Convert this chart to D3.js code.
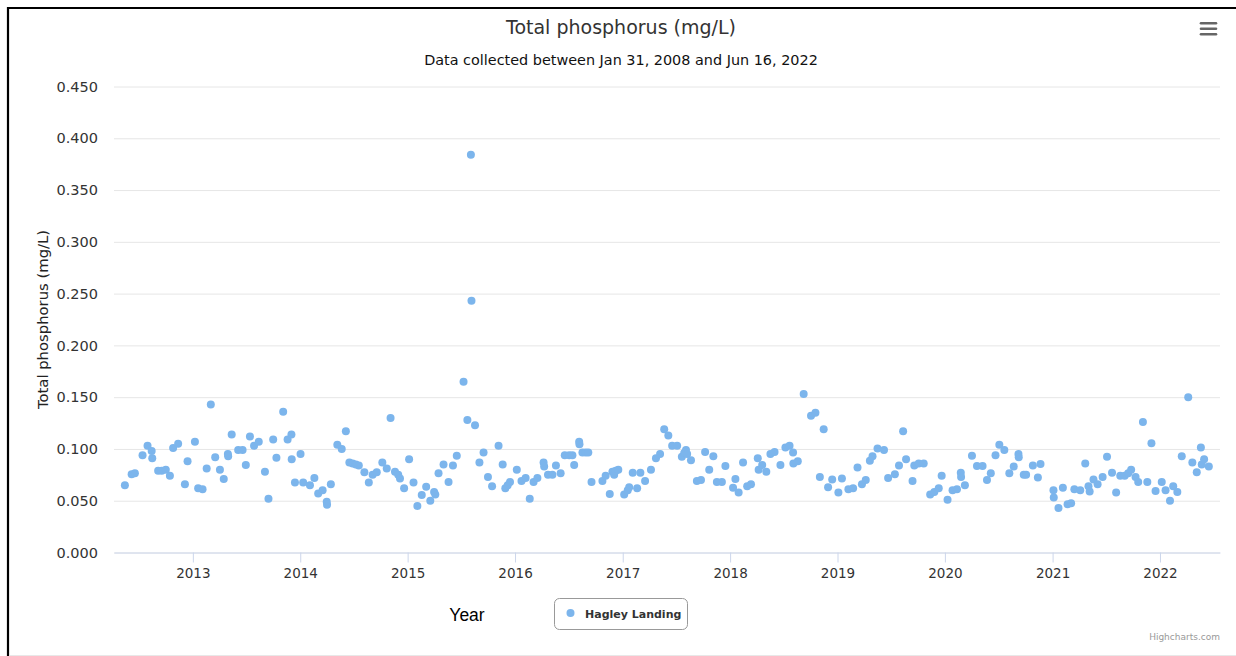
<!DOCTYPE html>
<html>
<head>
<meta charset="utf-8">
<script src="https://cdn.jsdelivr.net/npm/d3@7"></script>
<style>
  html, body { margin: 0; padding: 0; background: #fff; }
  svg { display: block; }
</style>
</head>
<body>
<script>
const chartTitle = "Total phosphorus (mg/L)";
const chartSubtitle = "Data collected between Jan 31, 2008 and Jun 16, 2022";
const yAxisTitle = "Total phosphorus (mg/L)";
const xAxisTitle = "Year";
const seriesName = "Hagley Landing";
const creditText = "Highcharts.com";
const yTicks = [0, 0.05, 0.10, 0.15, 0.20, 0.25, 0.30, 0.35, 0.40, 0.45];
const xDomain = ["2012-04-08", "2022-07-24"];

const dates = [
"2012-05-15","2012-06-07","2012-06-18","2012-07-14","2012-07-31","2012-08-14","2012-08-16","2012-09-05","2012-09-17","2012-10-01","2012-10-15","2012-10-26","2012-11-12","2012-12-05","2012-12-14",
"2013-01-08","2013-01-19","2013-02-03","2013-02-17","2013-03-03","2013-03-18","2013-04-03","2013-04-16","2013-04-30","2013-05-01","2013-05-13","2013-06-04","2013-06-19","2013-06-30","2013-07-14","2013-07-28","2013-08-13","2013-09-03","2013-09-15","2013-10-01","2013-10-12","2013-11-04","2013-11-19","2013-12-02","2013-12-03","2013-12-14",
"2014-01-02","2014-01-11","2014-02-03","2014-02-18","2014-03-03","2014-03-18","2014-04-01","2014-04-02","2014-04-15","2014-05-07","2014-05-22","2014-06-05","2014-06-17","2014-06-28","2014-07-09","2014-07-19","2014-08-07","2014-08-22","2014-09-04","2014-09-18","2014-10-07","2014-10-22","2014-11-04","2014-11-19","2014-11-30","2014-12-06","2014-12-20",
"2015-01-06","2015-01-21","2015-02-03","2015-02-18","2015-03-05","2015-03-19","2015-04-01","2015-04-05","2015-04-16","2015-05-03","2015-05-20","2015-06-04","2015-06-17","2015-07-10","2015-07-23","2015-08-04","2015-08-06","2015-08-18","2015-09-02","2015-09-16","2015-10-01","2015-10-15","2015-11-06","2015-11-20","2015-11-29","2015-12-07","2015-12-15",
"2016-01-07","2016-01-23","2016-02-06","2016-02-20","2016-03-04","2016-03-17","2016-04-07","2016-04-09","2016-04-22","2016-05-07","2016-05-19","2016-06-04","2016-06-18","2016-07-03","2016-07-14","2016-07-20","2016-08-06","2016-08-07","2016-08-17","2016-08-28","2016-09-06","2016-09-17","2016-10-24","2016-11-04","2016-11-18","2016-11-27","2016-12-03","2016-12-08","2016-12-17",
"2017-01-06","2017-01-18","2017-01-23","2017-02-04","2017-02-19","2017-03-02","2017-03-18","2017-04-07","2017-04-24","2017-05-08","2017-05-22","2017-06-05","2017-06-18","2017-07-05","2017-07-21","2017-07-29","2017-08-04","2017-08-08","2017-08-21","2017-09-10","2017-09-24","2017-10-08","2017-10-22","2017-11-05","2017-11-17","2017-12-04","2017-12-16",
"2018-01-11","2018-01-19","2018-01-30","2018-02-14","2018-02-28","2018-03-13","2018-04-05","2018-04-08","2018-04-20","2018-05-04","2018-05-18","2018-06-01","2018-06-21","2018-07-08","2018-07-22","2018-08-03","2018-08-04","2018-08-19","2018-09-08","2018-10-03","2018-10-18","2018-11-02","2018-11-15","2018-11-30","2018-12-14",
"2019-01-04","2019-01-16","2019-02-07","2019-02-23","2019-03-10","2019-03-25","2019-04-07","2019-04-21","2019-04-30","2019-05-17","2019-06-08","2019-06-22","2019-07-15","2019-07-29","2019-08-12","2019-08-22","2019-09-13","2019-09-19","2019-10-04","2019-10-21","2019-11-12","2019-11-26","2019-12-11","2019-12-21",
"2020-01-10","2020-01-27","2020-02-11","2020-02-24","2020-02-25","2020-03-09","2020-04-02","2020-04-19","2020-05-08","2020-05-23","2020-06-05","2020-06-21","2020-07-04","2020-07-21","2020-08-07","2020-08-22","2020-09-07","2020-09-08","2020-09-25","2020-10-03","2020-10-26","2020-11-12","2020-11-21",
"2021-01-04","2021-01-05","2021-01-21","2021-02-05","2021-02-21","2021-03-05","2021-03-16","2021-04-05","2021-04-22","2021-05-03","2021-05-07","2021-05-20","2021-06-03","2021-06-20","2021-07-05","2021-07-22","2021-08-05","2021-08-19","2021-09-03","2021-09-15","2021-09-25","2021-10-10","2021-10-19","2021-11-04","2021-11-19","2021-12-03","2021-12-17",
"2022-01-07","2022-01-20","2022-02-04","2022-02-15","2022-03-01","2022-03-16","2022-04-07","2022-04-21","2022-05-06","2022-05-20","2022-05-23","2022-05-31","2022-06-16"
];

const values = [
0.065,0.0755,0.0765,0.094,0.103,0.098,0.091,0.079,0.079,0.080,0.074,0.101,0.105,0.066,0.088,
0.107,0.062,0.061,0.081,0.143,0.092,0.080,0.071,0.095,0.093,0.114,0.099,0.099,0.0845,0.112,0.103,0.107,0.078,0.052,0.109,0.0915,0.136,0.109,0.114,0.090,0.0675,
0.095,0.0675,0.065,0.072,0.057,0.060,0.049,0.046,0.066,0.104,0.100,0.117,0.087,0.086,0.085,0.084,0.0775,0.0675,0.075,0.0775,0.087,0.081,0.130,0.078,0.075,0.0715,0.062,
0.090,0.0675,0.045,0.0555,0.0635,0.050,0.0585,0.056,0.0765,0.085,0.068,0.084,0.0935,0.165,0.128,0.384,0.243,0.123,0.087,0.0965,0.073,0.064,0.103,0.085,0.062,0.065,0.068,
0.080,0.069,0.072,0.052,0.068,0.072,0.087,0.083,0.075,0.075,0.084,0.0765,0.094,0.094,0.094,0.0845,0.107,0.1045,0.0965,0.0965,0.0965,0.068,0.069,0.074,0.0565,0.078,0.075,0.079,0.080,
0.056,0.060,0.063,0.077,0.062,0.077,0.069,0.080,0.091,0.095,0.119,0.113,0.103,0.103,0.0925,0.096,0.099,0.095,0.089,0.069,0.070,0.097,0.080,0.093,0.068,0.068,0.0835,
0.0625,0.071,0.058,0.087,0.064,0.066,0.091,0.080,0.0845,0.078,0.095,0.097,0.0845,0.1015,0.103,0.0965,0.086,0.088,0.153,0.132,0.135,0.073,0.119,0.063,0.0705,
0.058,0.0715,0.061,0.062,0.082,0.066,0.070,0.0885,0.093,0.1005,0.099,0.072,0.0755,0.084,0.117,0.090,0.069,0.084,0.086,0.086,0.056,0.0585,0.062,0.074,
0.051,0.060,0.061,0.077,0.073,0.065,0.0935,0.0835,0.0835,0.070,0.0765,0.094,0.104,0.099,0.0765,0.083,0.095,0.092,0.075,0.075,0.084,0.0725,0.0855,
0.060,0.053,0.043,0.0625,0.0465,0.0475,0.061,0.060,0.086,0.064,0.059,0.0705,0.066,0.073,0.0925,0.077,0.058,0.074,0.074,0.0765,0.080,0.073,0.068,0.126,0.068,0.1055,0.0595,
0.068,0.060,0.050,0.064,0.0585,0.093,0.150,0.087,0.0775,0.1015,0.085,0.090,0.083
];

const W = 1236, H = 656;
const FONT = '"DejaVu Sans", "Lucida Grande", sans-serif';
const parse = d3.timeParse("%Y-%m-%d");
const points = dates.map((d, i) => ({ date: parse(d), value: values[i] }));

const plot = { left: 114, right: 1220, top: 86.5, bottom: 552.5 };

const svg = d3.select("body").append("svg")
  .attr("width", W).attr("height", H)
  .style("font-family", FONT);

svg.append("rect").attr("width", W).attr("height", H).attr("fill", "#fff");

// frame
svg.append("line").attr("x1", 8).attr("x2", W).attr("y1", 8).attr("y2", 8)
  .attr("stroke", "#000").attr("stroke-width", 2.2);
svg.append("line").attr("x1", 8).attr("x2", 8).attr("y1", 7).attr("y2", H)
  .attr("stroke", "#000").attr("stroke-width", 2.2);
svg.append("line").attr("x1", 9).attr("x2", W).attr("y1", 655.5).attr("y2", 655.5)
  .attr("stroke", "#e8e8e8").attr("stroke-width", 1);

const x = d3.scaleTime()
  .domain(xDomain.map(parse))
  .range([plot.left, plot.right]);
const y = d3.scaleLinear()
  .domain([0, 0.45])
  .range([plot.bottom, plot.top]);

// title & subtitle
svg.append("text").attr("x", 621).attr("y", 33.5)
  .attr("text-anchor", "middle").attr("fill", "#333")
  .style("font-size", "19px").text(chartTitle);
svg.append("text").attr("x", 621).attr("y", 65)
  .attr("text-anchor", "middle").attr("fill", "#111")
  .style("font-size", "14.4px").text(chartSubtitle);

// menu icon
const menu = svg.append("g").attr("stroke", "#666").attr("stroke-width", 2.6).attr("stroke-linecap", "round");
[23.3, 28.7, 34.2].forEach(yy => {
  menu.append("line").attr("x1", 1201).attr("x2", 1216).attr("y1", yy).attr("y2", yy);
});

// y grid + labels
const yAxis = d3.axisLeft(y)
  .tickValues(yTicks)
  .tickFormat(d3.format(".3f"))
  .tickSize(-(plot.right - plot.left))
  .tickPadding(16);
const gy = svg.append("g").attr("transform", `translate(${plot.left},0)`).call(yAxis);
gy.select(".domain").remove();
gy.selectAll(".tick line").attr("stroke", "#e6e6e6").attr("stroke-width", 1);
gy.selectAll(".tick text").attr("fill", "#333").style("font-size", "14.5px").style("font-family", FONT);

// x axis
const xAxis = d3.axisBottom(x)
  .ticks(d3.timeYear.every(1))
  .tickFormat(d3.timeFormat("%Y"))
  .tickSize(10)
  .tickSizeOuter(0)
  .tickPadding(6);
const gx = svg.append("g").attr("transform", `translate(0,${plot.bottom})`).call(xAxis);
gx.select(".domain").attr("stroke", "#ccd6eb").attr("stroke-width", 1);
gx.selectAll(".tick line").attr("stroke", "#ccd6eb");
gx.selectAll(".tick text").attr("fill", "#333").style("font-size", "13.5px").style("font-family", FONT);

// y axis title
svg.append("text")
  .attr("transform", `translate(48,${(plot.top + plot.bottom) / 2}) rotate(-90)`)
  .attr("text-anchor", "middle").attr("fill", "#222")
  .style("font-size", "14.8px").text(yAxisTitle);

// x axis title
svg.append("text").attr("x", 467).attr("y", 621)
  .attr("text-anchor", "middle").attr("fill", "#000")
  .style("font-family", '"Liberation Sans", Arial, sans-serif')
  .style("font-size", "17.5px").text(xAxisTitle);

// points
svg.append("g").selectAll("circle").data(points).join("circle")
  .attr("cx", d => x(d.date))
  .attr("cy", d => y(d.value))
  .attr("r", 4)
  .attr("fill", "#7cb5ec");

// legend
const lg = svg.append("g");
lg.append("rect").attr("x", 554.5).attr("y", 598.5).attr("width", 133).attr("height", 31)
  .attr("rx", 5).attr("ry", 5).attr("fill", "#fff").attr("stroke", "#999").attr("stroke-width", 1);
lg.append("circle").attr("cx", 570.5).attr("cy", 613).attr("r", 4).attr("fill", "#7cb5ec");
lg.append("text").attr("x", 585).attr("y", 618)
  .attr("fill", "#333").style("font-size", "11px").style("font-weight", "bold").text(seriesName);

// credits
svg.append("text").attr("x", 1220).attr("y", 640)
  .attr("text-anchor", "end").attr("fill", "#999")
  .style("font-size", "9px").text(creditText);
</script>
</body>
</html>
